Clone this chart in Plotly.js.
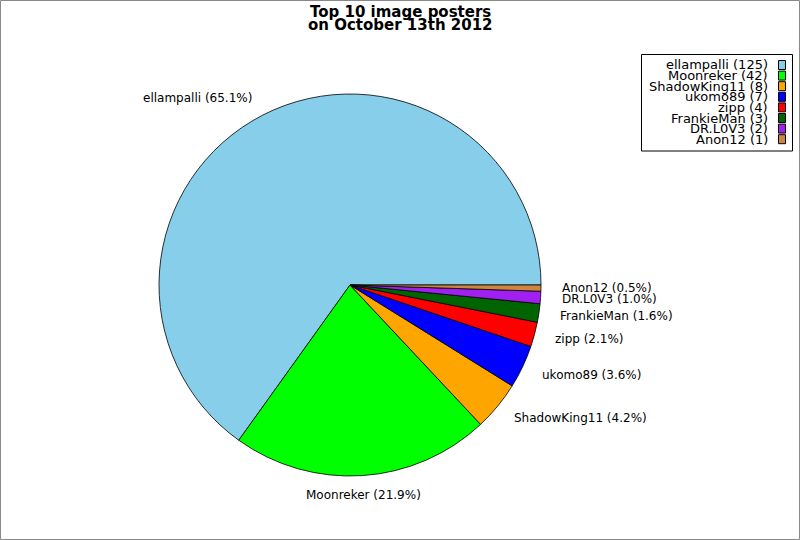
<!DOCTYPE html>
<html>
<head>
<meta charset="utf-8">
<script src="https://cdn.plot.ly/plotly-3.0.1.min.js"></script>
<style>body{margin:0;background:#fff}</style>
</head>
<body>
<div id="myDiv" style="width:800px;height:540px"></div>
<script>
  var posters = ['ellampalli', 'Moonreker', 'ShadowKing11', 'ukomo89', 'zipp', 'FrankieMan', 'DR.L0V3', 'Anon12'];
  var posts = [125, 42, 8, 7, 4, 3, 2, 1];
  var colors = ['#87ceeb', '#00ff00', '#ffa500', '#0000ff', '#ff0000', '#006400', '#a020f0', '#cd853f'];

  var W = 800, H = 540;
  var cx = 350, cy = 285, r = 191;
  var total = posts.reduce(function (a, b) { return a + b; }, 0);

  // slice labels, placed like matplotlib does (1.1 x radius from the centre)
  var annotations = [];
  var start = 0;
  posts.forEach(function (v, i) {
    var frac = v / total;
    var mid = (start + frac / 2) * 2 * Math.PI;
    start += frac;
    var c = Math.cos(mid);
    var px = cx + 1.1 * r * c;
    var py = cy - 1.1 * r * Math.sin(mid);
    annotations.push({
      xref: 'paper', yref: 'paper', x: px / W, y: 1 - py / H,
      text: posters[i] + ' (' + (frac * 100).toFixed(1) + '%)',
      showarrow: false,
      xanchor: Math.abs(c) < 0.15 ? 'center' : (c > 0 ? 'left' : 'right'),
      yanchor: 'middle',
      font: {size: 12, color: '#000'}
    });
  });

  // title, two tight lines
  annotations.push({
    xref: 'paper', yref: 'paper', x: 0.5, y: 1 - 12 / H, showarrow: false,
    xanchor: 'center', yanchor: 'middle', borderpad: 0,
    text: '<b>Top 10 image posters</b>', font: {size: 15, color: '#000'}
  });
  annotations.push({
    xref: 'paper', yref: 'paper', x: 0.5, y: 1 - 25 / H, showarrow: false,
    xanchor: 'center', yanchor: 'middle', borderpad: 0,
    text: '<b>on October 13th 2012</b>', font: {size: 15, color: '#000'}
  });

  // legend box with the text on the left and the swatch on the right
  var shapes = [
    {type: 'rect', xref: 'paper', yref: 'paper', x0: 0.5 / W, x1: 1 - 0.5 / W, y0: 0.5 / H, y1: 1 - 0.5 / H,
      line: {color: '#888', width: 1}},
    {type: 'rect', xref: 'paper', yref: 'paper', x0: 641.5 / W, x1: 792.5 / W, y0: 1 - 151 / H, y1: 1 - 54.5 / H,
      line: {color: '#000', width: 1}, fillcolor: '#fff'}
  ];
  posters.forEach(function (name, i) {
    var rowY = 65 + i * 10.6;
    annotations.push({
      xref: 'paper', yref: 'paper', x: 769 / W, y: 1 - rowY / H,
      text: name + ' (' + posts[i] + ')',
      showarrow: false, xanchor: 'right', yanchor: 'middle',
      borderpad: 0,
      font: {size: 13, color: '#000'}
    });
    shapes.push({
      type: 'rect', xref: 'paper', yref: 'paper',
      x0: 778.5 / W, x1: 785.5 / W, y0: 1 - (rowY + 4.5) / H, y1: 1 - (rowY - 4.5) / H,
      line: {color: '#000', width: 1}, fillcolor: colors[i]
    });
  });

  var data = [{
    type: 'pie',
    labels: posters,
    values: posts,
    sort: false,
    direction: 'counterclockwise',
    // first slice starts at 3 o'clock and runs counterclockwise
    rotation: 90 - 360 * posts[0] / total,
    textinfo: 'none',
    showlegend: false,
    marker: {colors: colors, line: {color: '#000', width: 0.8}},
    domain: {x: [(cx - r) / W, (cx + r) / W], y: [1 - (cy + r) / H, 1 - (cy - r) / H]}
  }];

  var layout = {
    width: W,
    height: H,
    margin: {l: 0, r: 0, t: 0, b: 0},
    paper_bgcolor: '#fff',
    font: {family: 'DejaVu Sans, sans-serif', color: '#000'},
    annotations: annotations,
    shapes: shapes
  };

  Plotly.newPlot('myDiv', data, layout, {staticPlot: true});
</script>
</body>
</html>
